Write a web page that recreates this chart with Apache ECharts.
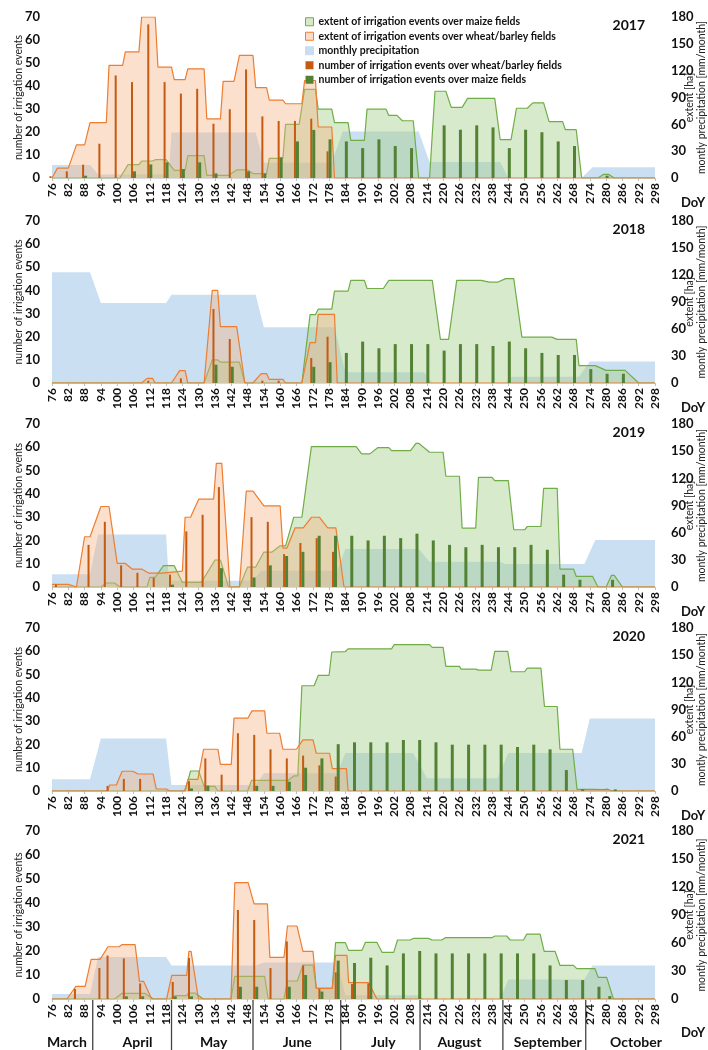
<!DOCTYPE html>
<html><head><meta charset="utf-8">
<script src="https://cdn.jsdelivr.net/npm/echarts/dist/echarts.min.js"></script>
<style>html,body{margin:0;padding:0;background:#fff}#c{width:708px;height:1050px}</style>
</head><body><div id="c"></div>
<script>
// ---------------- DATA ----------------
const years = ['2017', '2018', '2019', '2020', '2021'];
const months = ['March', 'April', 'May', 'June', 'July', 'August', 'September', 'October'];
const monthCenters = [81.5, 107.5, 135.5, 166.3, 198, 226, 258.5, 291];
const monthBounds = [91, 120, 150, 182.3, 211.5, 242, 272.5];

// 2017
const precip17 = [[76,14.5],[90,14.5],[93,4],[119,4],[120,51],[151,51],[154,17],[179,17],[183,52],[211,52],[215,18],[241,18],[244,0],[271,0],[275,12],[298,12]];
const maize17 = [[76,0],[101,0],[104,15],[108,15],[109,19],[113,19],[114,20.5],[118,20.5],[121,8.6],[125,8.6],[126,25],[132,25],[133,3],[141,3],[144,9],[148,9],[150,5],[155,5],[156,22],[161,22],[162,60],[167,60],[169,99],[173,99],[174,77],[179,77],[180,62],[185,62],[186,42],[191,42],[192,77],[199,77],[200,70],[203,70],[205,64],[209,64],[211,0],[215,0],[217,97],[221,97],[223,79],[227,79],[229,89],[239,89],[241,43],[245,43],[247,78],[251,78],[253,84],[257,84],[259,63],[264,63],[265,54],[269,54],[271,0],[277,0],[279,4],[281,4],[283,0],[298,0]];
const wheat17 = [[76,0],[78,11],[82,11],[85,37],[88,37],[90,62],[96,62],[97,126],[102,126],[103,141],[108,141],[109,180],[114,180],[115,124],[120,124],[121,110],[125,110],[126,122],[132,122],[133,66],[138,66],[139,108],[143,108],[145,137],[150,137],[151,101],[155,101],[156,87],[161,87],[162,83],[168,83],[169,109],[173,109],[174,57],[179,57],[180,0],[298,0]];
const wheatN17 = [[76,0.8],[82,2.9],[88,5.8],[94,14.9],[100,44.6],[106,41.7],[112,66.8],[118,41.7],[124,36.7],[130,38.8],[136,23.6],[142,29.9],[148,47.2],[154,26.8],[160,24.8],[166,24.8],[172,25.8],[178,11.6]];
const maizeN17 = [[88,1],[106,2.9],[112,5.9],[118,6.8],[124,3.9],[130,6.8],[136,2],[148,2.9],[154,2],[160,9],[166,15.9],[172,20.9],[178,16.8],[184,15.9],[190,13],[196,16.8],[202,13.9],[208,13],[220,22.9],[226,21],[232,22.9],[238,22],[244,13],[250,21],[256,19.9],[262,15.9],[268,13.9],[280,1]];

// 2018
const precip18 = [[76,123],[90,123],[94,89],[118,89],[120,98],[151,98],[154,62],[180,62],[184,12],[213,12],[216,0],[243,0],[245,7],[270,7],[274,24],[298,24]];
const maize18 = [[76,0],[132,0],[135,25.6],[137,25.6],[138,23.3],[145,23.3],[147,0],[168,0],[171,76],[173,76],[174,82],[179,82],[180,102],[185,102],[186,114],[191,114],[192,105],[198,105],[200,114],[216,114],[219,48.5],[222,48.5],[225,114],[234,114],[237,112],[240,112],[243,116],[246,116],[249,51],[260,51],[262,48.5],[269,48.5],[270,19.3],[276,19.3],[280,14],[287,14],[292,0],[298,0]];
const wheat18 = [[76,0],[109,0],[111,5.1],[113,5.1],[114,0],[120,0],[123,13.7],[125,13.7],[126,0],[132,0],[135,103],[137,103],[138,62.6],[144,62.6],[147,0],[150,0],[153,10.4],[155,10.4],[156,4],[161,4],[162,0],[168,0],[171,44.8],[173,44.8],[174,76.3],[180,76.3],[181,0],[298,0]];
const wheatN18 = [[112,1],[124,2],[136,32],[142,19],[154,1],[160,1],[172,10.8],[178,20]];
const maizeN18 = [[136,7.9],[142,7],[172,7],[178,9],[184,13],[190,17.9],[196,15],[202,16.8],[208,16.8],[214,16.8],[220,14],[226,16.8],[232,16.8],[238,16],[244,17.9],[250,15],[256,13],[262,12.1],[268,12.1],[274,6],[280,4],[286,4]];

// 2019
const precip19 = [[76,14],[90,14],[93,58],[118,58],[119,7],[150,7],[153,18],[181,18],[184,42],[211,42],[215,28],[241,28],[243,25.5],[272,25.5],[276,52],[298,52]];
const maize19 = [[76,0],[94,0],[96,4.4],[99,4.4],[101,0],[111,0],[112,10.6],[114,10.6],[117,23.5],[121,23.5],[124,5.1],[131,5.1],[136,29.8],[138,29.8],[141,0],[145,0],[148,22],[151,22],[154,38.6],[157,38.6],[160,45.5],[162,45.5],[165,77],[168,77],[171.5,155],[188,155],[190,147],[193,147],[196,154],[200,154],[201,150.6],[208,150.6],[210,158.7],[211,158.7],[215,148.8],[220,148.8],[221,122.3],[226,122.3],[227,65],[232,65],[233,121],[238,121],[239,117.5],[244,117.5],[246,63.2],[250,63.2],[251,66.8],[256,66.8],[257,109],[262,109],[263,19.8],[268,19.8],[269,11.8],[275,11.8],[277,0],[280,0],[282,12.9],[283,12.9],[286,0],[298,0]];
const wheat19 = [[76,2.9],[82,2.9],[85,0],[88,55.5],[90,55.5],[94,88.9],[97,88.9],[100,26],[103,26],[105.5,19.8],[109,19.8],[111.5,15.4],[116.5,15.4],[117,17.6],[124,17.6],[125,77],[127,77],[130,97],[135.5,97],[136.5,136.6],[138.5,136.6],[141.5,0],[145,0],[147.5,105.8],[150,105.8],[154,89.6],[160,89.6],[161,43],[162.5,43],[165.5,65.4],[168.5,65.4],[171.5,77],[174.5,77],[177.5,65.4],[180.5,65.4],[183.5,0],[298,0]];
const wheatN19 = [[78,1],[90,18.1],[96,28],[102,9.3],[108,6.1],[114,4],[120,5.3],[126,23.9],[132,31],[138,42.9],[150,30],[156,28],[162,14.1],[168,18.9],[174,21],[180,15.1]];
const maizeN19 = [[120,1],[138,8.1],[150,4.1],[156,9.3],[162,13.3],[168,15.1],[174,22],[180,22],[186,22],[192,20],[198,22],[204,21],[210,22.9],[216,20],[222,18.1],[228,17.1],[234,18.1],[240,17.1],[246,17.1],[252,18.1],[258,16],[264,5.3],[270,3.1],[282,3.1]];

// 2020
const precip20 = [[76,13],[90,13],[94,58],[118,58],[120,6.5],[151,6.5],[154,19.5],[181,19.5],[184,42],[209,42],[214,14],[240,14],[244,42],[271,42],[274,80],[298,80]];
const maize20 = [[76,0],[125,0],[127,22.1],[130,22.1],[132,5.2],[136,5.2],[137,0],[148,0],[149.5,11.8],[163,11.8],[165,16.6],[166.5,16.6],[168,116.2],[172.5,116.2],[174,127.6],[178,127.6],[179,153.5],[184,154],[185,157],[201,157],[202,161.6],[215,161.6],[216,158.6],[220,158.6],[221,137.6],[226,137.6],[226.6,134.6],[232,134.6],[233,133.5],[237.7,133.5],[239,154.2],[243.8,154.2],[245,131.7],[250,131.7],[251,135.8],[256,135.8],[257.3,93.3],[262,93.3],[263,46.1],[267.7,46.1],[269.3,1.8],[275,1.8],[279,1.5],[280.6,2],[282,0],[298,0]];
const wheat20 = [[76,0],[96.4,0],[97.2,6.6],[99.7,6.6],[101.8,21.8],[105.8,21.8],[107.7,18.8],[113.2,18.8],[114.4,2.2],[118.1,2.2],[119.3,0],[124.8,0],[126.1,12.9],[129.7,12.9],[131.8,46.1],[137.1,46.1],[138,29.5],[142,29.5],[143,80.4],[148.1,80.4],[149.6,88.5],[154.3,88.5],[155.1,63.8],[159.8,63.8],[161,46.1],[166,46.1],[168.4,56.4],[172.1,56.4],[173.3,41.7],[178.2,41.7],[179.2,24.7],[184.4,24.7],[185,0],[298,0]];
const wheatN20 = [[97,2.2],[103,5.2],[109,5.2],[127,4.2],[133,14],[139,7],[145,24.8],[151,24.1],[157,17.9],[163,14],[169,15.2],[175,11],[181,6.2]];
const maizeN20 = [[127,1.1],[133,2.3],[151,2.2],[157,2.2],[163,4],[169,10],[175,14],[181,20.1],[187,20.9],[193,20.9],[199,20.9],[205,21.9],[211,21.9],[217,20.9],[223,19.9],[229,19.9],[235,19.9],[241,19.9],[247,18.9],[253,19.9],[259,17.9],[265,9],[271,0.7],[283,0.7]];

// 2021
const precip21 = [[76,5.4],[90,5.4],[93,45],[118,45],[120,36],[151,36],[154,39],[181,39],[184,4],[211,4],[213,0],[241,0],[244,21],[272,21],[275,36],[298,36]];
const maize21 = [[76,0],[99,0],[101.7,6],[110.3,6],[113.3,0],[119.5,0],[121.3,3.6],[125.6,3.6],[126.2,6.4],[128.6,6.4],[131.7,0],[141.9,0],[143.3,24.3],[154.3,24.3],[155.6,0],[161.4,0],[162.7,19.3],[166.3,19.3],[168.4,36.4],[172.1,36.4],[173.3,11.4],[179.2,11.4],[180.4,60.4],[184,60.4],[185.2,52.1],[190.1,52.1],[191.4,60.7],[195.6,60.7],[197.5,50],[201.8,50],[203.2,63.2],[207.9,63.2],[209.1,65],[214.6,65],[215.9,63.2],[219.5,63.2],[220.8,65.7],[237.9,65.7],[239.1,67.5],[243.4,67.5],[244.7,63.2],[249.6,63.2],[250.8,69.6],[255.7,69.6],[257.2,51.1],[261.2,51.1],[263,36.1],[268,36.1],[269.2,32.5],[275.9,32.5],[277.1,23.2],[280.2,23.2],[282.7,0],[298,0]];
const wheat21 = [[76,0],[81.5,0],[84.8,13.6],[88.2,13.6],[90.4,42.5],[93.7,42.5],[96.6,56],[100.7,56],[101.7,58.2],[106.6,58.2],[108.2,18.9],[109.7,18.9],[112.7,0],[118.2,0],[120.1,25.4],[125.6,25.4],[126.4,51],[127.2,51],[129.9,0],[141.9,0],[143.3,124.6],[148.2,124.6],[150.4,102],[155.3,102],[156.2,44.6],[161.4,44.6],[162.7,78.2],[166.2,78.2],[168.4,51],[172.1,51],[173.3,11.4],[179.2,11.4],[180.4,46.8],[184.6,46.8],[185.2,17.5],[192.6,17.5],[195.6,0],[298,0]];
const wheatN21 = [[85,4.2],[94,12.9],[97,18.1],[103,16.9],[109,6.5],[121,7.1],[127,17.1],[145,37.1],[151,32.9],[157,12.9],[163,24],[169,14],[175,4.2],[181,11.1],[187,6.3],[193,6.5]];
const maizeN21 = [[103,1.1],[109,1.1],[121,1.1],[127,1.1],[145,5.1],[151,5.1],[163,5.1],[169,10],[175,3.1],[181,16],[187,15],[193,17.2],[199,14],[205,19],[211,20],[217,19],[223,19],[229,19],[235,19],[241,19],[247,19],[253,19],[259,14],[265,7.9],[271,7.9],[277,5.1],[281,1.2]];

const precipAll = [precip17, precip18, precip19, precip20, precip21];
const maizeAll = [maize17, maize18, maize19, maize20, maize21];
const wheatAll = [wheat17, wheat18, wheat19, wheat20, wheat21];
const wheatNAll = [wheatN17, wheatN18, wheatN19, wheatN20, wheatN21];
const maizeNAll = [maizeN17, maizeN18, maizeN19, maizeN20, maizeN21];

// ---------------- LAYOUT / STYLE ----------------
const FONT = 'Lato, "Liberation Sans", sans-serif';
const layout = [{top:17,h:161},{top:221,h:162},{top:424,h:163},{top:628,h:163},{top:831,h:168}];
const N_MAIZE_EXT = 'extent of irrigation events over maize fields';
const N_WHEAT_EXT = 'extent of irrigation events over wheat/barley fields';
const N_PRECIP = 'monthly precipitation';
const N_WHEAT_N = 'number of irrigation events over wheat/barley fields';
const N_MAIZE_N = 'number of irrigation events over maize fields';

const C = {
  blueFill: 'rgba(160,196,232,0.55)',
  greenLine: '#70AD47', greenFill: 'rgba(169,208,142,0.45)',
  orangeLine: '#ED7D31', orangeFill: 'rgba(244,177,131,0.4)',
  orangeBar: '#C55A11', greenBar: '#548235'
};

const grids = [], xAxes = [], yAxes = [], series = [];
years.forEach((yr, i) => {
  const L = layout[i];
  grids.push({left: 52, right: 53, top: L.top, height: L.h, containLabel: false, outerBoundsMode: 'none'});
  xAxes.push({
    type: 'value', gridIndex: i, min: 76, max: 298, interval: 6,
    axisLine: {show: true, lineStyle: {color: '#d9d9d9', width: 1}},
    axisTick: {show: true, length: 3, lineStyle: {color: '#bfbfbf'}},
    splitLine: {show: false},
    axisLabel: {rotate: 90, fontFamily: FONT, fontWeight: 'bold', fontSize: 12, color: '#111', margin: 5}
  });
  yAxes.push({
    type: 'value', gridIndex: i, position: 'left', min: 0, max: 70, interval: 10,
    axisLine: {show: false}, axisTick: {show: false}, splitLine: {show: false},
    axisLabel: {fontFamily: FONT, fontWeight: 'bold', fontSize: 13, color: '#111', margin: 12},
    name: 'number of irrigation events', nameLocation: 'middle', nameRotate: 90, nameGap: 28,
    nameMoveOverlap: false,
    nameTextStyle: {fontFamily: FONT, fontSize: 10.5, color: '#222'}
  });
  yAxes.push({
    type: 'value', gridIndex: i, position: 'right', min: 0, max: 180, interval: 30,
    axisLine: {show: false}, axisTick: {show: false}, splitLine: {show: false},
    axisLabel: {fontFamily: FONT, fontWeight: 'bold', fontSize: 13, color: '#111', margin: 16},
    name: 'extent [ha]\nmontly precipitation [mm/month]', nameLocation: 'middle', nameRotate: 90, nameGap: 29,
    nameMoveOverlap: false,
    nameTextStyle: {fontFamily: FONT, fontSize: 10.5, lineHeight: 12, color: '#222', align: 'center'}
  });
  series.push({
    type: 'line', name: N_PRECIP, xAxisIndex: i, yAxisIndex: 2*i+1, data: precipAll[i],
    symbol: 'none', lineStyle: {width: 0, opacity: 0}, itemStyle: {color: '#9DC3E6'},
    areaStyle: {color: C.blueFill, opacity: 1}, z: 1, silent: true, animation: false
  });
  series.push({
    type: 'line', name: N_MAIZE_EXT, xAxisIndex: i, yAxisIndex: 2*i+1, data: maizeAll[i],
    symbol: 'none', lineStyle: {width: 1.2, color: C.greenLine}, itemStyle: {color: C.greenLine},
    areaStyle: {color: C.greenFill, opacity: 1}, z: 2, silent: true, animation: false
  });
  series.push({
    type: 'line', name: N_WHEAT_EXT, xAxisIndex: i, yAxisIndex: 2*i+1, data: wheatAll[i],
    symbol: 'none', lineStyle: {width: 1.2, color: C.orangeLine}, itemStyle: {color: C.orangeLine},
    areaStyle: {color: C.orangeFill, opacity: 1}, z: 3, silent: true, animation: false
  });
  series.push({
    type: 'bar', name: N_WHEAT_N, xAxisIndex: i, yAxisIndex: 2*i, data: wheatNAll[i],
    barWidth: 2, barGap: '0%', itemStyle: {color: C.orangeBar}, z: 5, silent: true, animation: false
  });
  series.push({
    type: 'bar', name: N_MAIZE_N, xAxisIndex: i, yAxisIndex: 2*i, data: maizeNAll[i],
    barWidth: 3, barGap: '0%', itemStyle: {color: C.greenBar}, z: 5, silent: true, animation: false
  });
});

const chart = echarts.init(document.getElementById('c'), null, {renderer: 'canvas'});
chart.setOption({
  animation: false,
  backgroundColor: '#fff',
  grid: grids, xAxis: xAxes, yAxis: yAxes, series: series,
  legend: {
    orient: 'vertical', left: 300, top: 11, itemWidth: 8, itemHeight: 8, itemGap: 3,
    selectedMode: false,
    textStyle: {fontFamily: FONT, fontWeight: 'bold', fontSize: 10.5, lineHeight: 11.5, color: '#111'},
    data: [
      {name: N_MAIZE_EXT, icon: 'rect', itemStyle: {color: '#D6E9C8', borderColor: C.greenLine, borderWidth: 1}},
      {name: N_WHEAT_EXT, icon: 'rect', itemStyle: {color: '#FBDCC8', borderColor: C.orangeLine, borderWidth: 1}},
      {name: N_PRECIP, icon: 'rect', itemStyle: {color: '#C9DDF1', borderColor: '#C9DDF1', borderWidth: 1}},
      {name: N_WHEAT_N, icon: 'rect', itemStyle: {color: C.orangeBar, borderWidth: 0}},
      {name: N_MAIZE_N, icon: 'rect', itemStyle: {color: C.greenBar, borderWidth: 0}}
    ]
  }
});

// texts & month separators placed through the axis scale
const g = [];
years.forEach((yr, i) => {
  const L = layout[i];
  g.push({type: 'text', x: 645, y: L.top + 8, style: {text: yr, font: 'bold 14px ' + FONT, fill: '#111', align: 'right', verticalAlign: 'middle'}});
  g.push({type: 'text', x: 693, y: L.top + L.h + (i === 4 ? 34 : 25), style: {text: 'DoY', font: 'bold 13px ' + FONT, fill: '#111', align: 'center', verticalAlign: 'middle'}});
});
const lastBottom = layout[4].top + layout[4].h;
monthBounds.forEach(d => {
  const px = chart.convertToPixel({xAxisIndex: 4}, d);
  g.push({type: 'line', shape: {x1: px, y1: lastBottom, x2: px, y2: 1050}, style: {stroke: '#444', lineWidth: 1.3}});
});
months.forEach((m, k) => {
  const px = chart.convertToPixel({xAxisIndex: 4}, monthCenters[k]);
  g.push({type: 'text', x: px, y: 1042, style: {text: m, font: 'bold 14px ' + FONT, fill: '#111', align: 'center', verticalAlign: 'middle'}});
});
chart.setOption({graphic: g});
</script>
</body></html>
